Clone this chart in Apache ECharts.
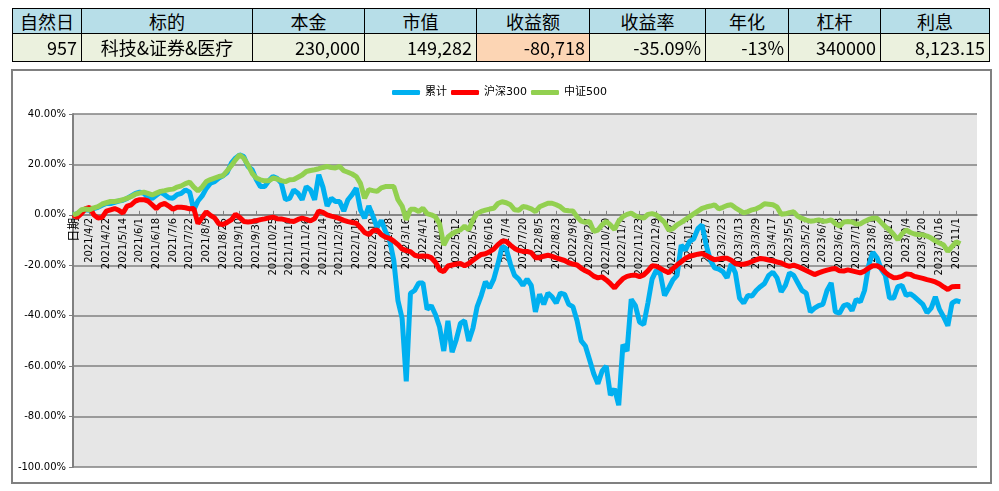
<!DOCTYPE html>
<html>
<head>
<meta charset="utf-8">
<script src="https://cdn.jsdelivr.net/npm/echarts@6/dist/echarts.min.js"></script>
<style>
html, body { margin: 0; padding: 0; background: #fff; }
#chart { position: absolute; left: 0; top: 0; width: 999px; height: 491px; }
#tbl { position: absolute; left: 0; top: 0; width: 999px; height: 66px; }
.cell { position: absolute; box-sizing: border-box; border: 1px solid #000; font-family: "Noto Sans CJK SC", sans-serif; color: #000; white-space: nowrap; overflow: hidden; font-size: 18px; }
</style>
</head>
<body>
<div id="chart"></div>
<div id="tbl"></div>
<script>
// 表头和数据
var headers = ['自然日', '标的', '本金', '市值', '收益额', '收益率', '年化', '杠杆', '利息'];
var values = ['957', '科技&证券&医疗', '230,000', '149,282', '-80,718', '-35.09%', '-13%', '340000', '8,123.15'];

// x轴标签 (每4个点一个)
var labels = ['日期', '2021/4/2', '2021/4/22', '2021/5/14', '2021/6/1', '2021/6/18', '2021/7/6', '2021/7/22', '2021/8/9', '2021/8/25',
	'2021/9/10', '2021/9/30', '2021/10/25', '2021/11/10', '2021/11/26', '2021/12/14', '2021/12/30', '2022/1/18', '2022/2/10', '2022/2/28',
	'2022/3/16', '2022/4/1', '2022/4/21', '2022/5/12', '2022/5/30', '2022/6/16', '2022/7/4', '2022/7/20', '2022/8/5', '2022/8/23',
	'2022/9/8', '2022/9/27', '2022/10/20', '2022/11/7', '2022/11/23', '2022/12/9', '2022/12/27', '2023/1/13', '2023/2/7', '2023/2/23',
	'2023/3/13', '2023/3/29', '2023/4/17', '2023/5/5', '2023/5/23', '2023/6/8', '2023/6/28', '2023/7/14', '2023/8/1', '2023/8/17',
	'2023/9/4', '2023/9/20', '2023/10/16', '2023/11/1'];

// 累计
var cumRet = [0, 0.5, 1.5, 2.0, 1.8, 2.5, 3.0, 3.8, 4.5, 4.5,
	5.0, 5.5, 5.8, 6.5, 7.5, 8.5, 9.0, 8.5, 7.0, 6.5,
	7.8, 9.0, 8.0, 6.8, 6.6, 8.0, 8.5, 9.9, 9.0, 2.0,
	5.5, 7.5, 10.5, 12.6, 13.2, 14.6, 15.5, 16.8, 20.5, 22.5,
	23.8, 23.1, 19.2, 17.9, 14.0, 11.2, 11.2, 13.5, 15.2, 14.5,
	12.6, 6.0, 6.5, 9.9, 8.6, 6.0, 11.2, 9.9, 6.0, 15.9,
	11.0, 3.5, 6.6, 5.3, 5.3, 1.5, 6.0, 8.0, 10.6, 2.0,
	-1.3, 3.5,
	-0.5, -5.0, -2.2, -6.5, -10.0, -18.0, -34.0, -41.0, -66.0, -31.1,
	-30.0, -27.0, -27.0, -37.5, -36.0, -39.5, -44.5, -54.0, -42.0, -54.5,
	-49.5, -43.0, -42.0, -50.0, -45.0, -36.5, -32.0, -26.5, -29.0, -25.5,
	-19.5, -12.5, -13.5, -19.5, -24.0, -25.5, -28.0, -25.5, -28.0, -38.5,
	-31.5, -35.5, -31.0, -32.5, -35.0, -31.0, -31.5, -35.5, -36.4, -42.0,
	-50.0, -52.0, -57.5, -63.0, -67.0, -62.0, -60.0, -71.5, -69.0, -75.5,
	-51.5, -54.0, -33.5, -36.0, -42.5, -43.5, -35.0, -25.5, -22.0, -23.5,
	-32.0, -29.0,
	-25.8, -24.0, -12.0, -14.0, -10.5, -9.5, -5.5, -4.0, -12.0, -18.0,
	-21.0, -21.5, -22.5, -25.0, -19.5, -23.0, -33.0, -35.0, -32.0, -32.2,
	-30.0, -28.5, -27.2, -24.0, -22.7, -25.0, -30.5, -28.0, -23.0, -24.0,
	-27.0, -30.0, -31.0, -38.5, -37.0, -36.0, -35.5, -30.0, -27.0, -38.5,
	-39.0, -36.0, -35.5, -38.0, -33.5, -34.5, -30.0, -20.0, -14.8, -17.0,
	-21.5, -24.0, -33.0, -33.0, -28.5, -28.0, -32.0, -31.3, -32.5, -34.0,
	-35.5, -38.8, -37.0, -32.5, -37.5, -40.5, -44.0, -35.0, -34.0, -34.5];

// 沪深300
var hs300 = [0, -1.0, 0.5, 2.5, 3.0, 0, -1.3, -1.0, 1.5, 2.0,
	2.5, 1.8, 0.7, 3.5, 4.0, 5.5, 6.0, 6.0, 5.5, 4.0,
	2.5, 4.0, 4.5, 3.5, 2.2, 3.0, 3.0, 2.8, 2.4, 2.5,
	-3.5, -1.0, 1.2, -0.2, -1.2, -3.5, -3.8, -3.0, -2.0, 0.2,
	-1.0, -2.6, -2.8, -2.6, -2.3, -1.9, -1.6, -1.2, -0.9, -1.5,
	-1.6, -2.0, -2.4, -2.6, -1.8, -1.3, -1.8, -2.4, -1.5, 1.5,
	1.0, 0, -0.5, -0.9, -1.5, -2.2, -2.7, -3.0, -3.3, -5.0,
	-7.0, -7.8,
	-6.3, -6.0, -7.8, -8.8, -9.3, -10.4, -11.8, -13.5, -14.2, -14.6,
	-16.0, -16.4, -16.3, -16.4, -17.0, -18.8, -21.8, -22.5, -20.3, -19.9,
	-19.5, -19.3, -20.2, -19.3, -18.0, -16.8, -15.7, -15.4, -14.6, -13.6,
	-11.8, -10.5, -10.5, -12.0, -13.3, -14.1, -14.5, -14.5, -15.0, -17.0,
	-17.0, -16.4, -16.0, -16.5, -17.1, -17.6, -18.1, -19.0, -19.5, -19.9,
	-21.2, -22.2, -23.0, -24.3, -25.0, -24.6, -25.8, -27.3, -29.0, -27.0,
	-25.3, -24.4, -24.0, -23.9, -24.5, -23.8, -22.2, -20.2, -20.4, -21.2,
	-22.2, -23.0,
	-21.3, -19.9, -18.6, -17.3, -16.4, -16.0, -15.6, -15.3, -16.1, -17.0,
	-17.8, -17.5, -17.2, -17.2, -18.0, -19.3, -19.6, -19.6, -19.2, -18.5,
	-17.8, -17.3, -17.5, -17.9, -18.2, -18.7, -19.1, -19.9, -20.4, -19.9,
	-20.5, -21.3, -22.1, -22.9, -23.7, -23.0, -22.4, -21.9, -21.5, -21.3,
	-22.2, -22.3, -21.8, -22.2, -22.6, -23.0, -22.3, -21.1, -20.2, -20.2,
	-21.1, -22.8, -24.1, -24.9, -24.8, -24.4, -23.4, -23.6, -24.4, -24.8,
	-25.2, -25.7, -26.1, -26.6, -27.4, -28.6, -29.6, -28.5, -28.4, -28.4];

// 中证500
var zz500 = [0, 0.5, 2.0, 2.3, 2.0, 2.8, 3.3, 4.3, 4.8, 5.3,
	5.3, 5.6, 6.0, 6.6, 7.3, 8.2, 8.6, 9.0, 8.5, 7.9,
	8.6, 9.3, 9.6, 10.0, 10.2, 11.0, 11.5, 12.4, 13.0, 11.0,
	9.5, 11.0, 13.2, 14.0, 14.6, 15.2, 15.5, 17.5, 19.5, 21.8,
	23.8, 22.5, 19.8, 16.5, 14.6, 13.9, 13.5, 13.5, 14.6, 14.2,
	13.6, 13.2, 13.9, 14.0, 14.9, 15.8, 17.2, 17.6, 17.9, 18.3,
	18.8, 19.2, 18.8, 18.6, 19.2, 17.5, 16.9, 16.2, 15.2, 12.5,
	6.6, 10.0,
	9.6, 9.3, 10.7, 11.2, 11.2, 11.2, 6.0, 3.5, -2.0, 2.2,
	2.2, 1.3, 2.6, 0.5, 0, -0.8, -3.5, -12.0, -8.8, -7.5,
	-6.6, -6.0, -4.5, -6.0, -2.0, 0.5, 1.4, 1.9, 2.3, 2.6,
	4.5, 5.2, 4.8, 4.0, 2.0, 1.8, 3.3, 3.0, 2.4, 1.3,
	3.2, 3.9, 4.6, 4.6, 4.0, 3.2, 1.8, 1.6, 1.5, -0.8,
	-2.5, -3.0, -2.6, -6.5, -6.0, -4.0, -2.6, -4.0, -5.8, -2.5,
	-0.7, 0.2, 0.7, -0.4, -0.9, -1.3, 0.2, 0.5, 0, -1.5,
	-3.0, -6.0,
	-5.5, -4.0, -3.0, -1.9, -0.8, 0.4, 1.5, 2.6, 3.1, 3.5,
	4.0, 2.4, 3.0, 3.7, 4.0, 2.8, 1.8, 0.8, 1.3, 2.0,
	2.4, 3.2, 4.4, 4.2, 4.0, 3.1, 0.2, 0.4, 0.9, 1.2,
	-0.6, -1.4, -2.1, -2.5, -2.3, -2.0, -2.5, -2.4, -2.0, -3.5,
	-4.5, -2.8, -2.6, -2.8, -3.6, -3.6, -2.6, -1.8, -1.3, -1.3,
	-3.0, -4.7, -6.0, -7.8, -9.8, -7.5, -6.0, -7.0, -7.6, -7.9,
	-7.9, -8.4, -9.2, -10.3, -11.2, -12.0, -14.5, -12.6, -10.7, -11.5];

var STEP = 4;      // 每个标签之间的点数
var TOTAL = 218;   // 横轴类目总数 (末尾留空)
var Y_MIN = -100, Y_MAX = 40;
var GRID_TOP = 114, GRID_BOTTOM = 24, CHART_H = 491;

// 表格
var edges = [12, 81, 252, 364, 476, 589, 705, 788, 880, 989];
var tbl = document.getElementById('tbl');
function addCell(c, top, h, text, bg, align) {
	var d = document.createElement('div');
	d.className = 'cell';
	d.style.left = edges[c] + 'px';
	d.style.top = top + 'px';
	d.style.width = (edges[c + 1] - edges[c] + 1) + 'px';
	d.style.height = h + 'px';
	d.style.lineHeight = (h - 2) + 'px';
	d.style.background = bg;
	d.style.textAlign = align;
	if (align == 'right') d.style.paddingRight = '4px';
	d.textContent = text;
	tbl.appendChild(d);
}
headers.forEach(function (h, c) {
	addCell(c, 8, 26, h, '#b7dee8', 'center');
});
values.forEach(function (v, c) {
	addCell(c, 33, 29, v, c == 4 ? '#fcd5b4' : '#ebf1de', c == 1 ? 'center' : 'right');
});

// 横轴类目
var cats = [];
for (var i = 0; i < TOTAL; i++) {
	if (i % STEP == 0 && i / STEP < labels.length) cats.push(labels[i / STEP]);
	else cats.push('_' + i);
}
function pad(arr) {
	var out = arr.slice();
	while (out.length < TOTAL) out.push(null);
	return out;
}
function showIdx(idx) {
	return idx % STEP == 0 && idx / STEP < labels.length;
}

// x轴放在0%处
var plotH = CHART_H - GRID_TOP - GRID_BOTTOM;
var zeroOffset = -plotH * (0 - Y_MIN) / (Y_MAX - Y_MIN);

var myEcharts = echarts.init(document.getElementById('chart'));
var option = {
	animation: false,
	backgroundColor: 'transparent',
	graphic: [{
		type: 'rect',
		shape: { x: 12, y: 70, width: 979, height: 413 },
		style: { fill: 'none', stroke: '#808080', lineWidth: 2 },
		silent: true
	}],
	legend: {
		top: 82,
		left: 'center',
		icon: 'roundRect',
		itemWidth: 28,
		itemHeight: 5,
		itemGap: 4,
		textStyle: { fontSize: 11, color: '#000', fontFamily: 'DejaVu Sans, Noto Sans CJK SC' },
		data: ['累计', '沪深300', '中证500']
	},
	grid: {
		left: 73,
		right: 22,
		top: GRID_TOP,
		bottom: GRID_BOTTOM,
		show: true,
		backgroundColor: '#e6e6e6',
		borderWidth: 0
	},
	xAxis: {
		type: 'category',
		boundaryGap: false,
		data: cats,
		offset: zeroOffset,
		axisLine: { onZero: false, lineStyle: { color: '#808080', width: 1.5 } },
		axisTick: { interval: showIdx, inside: true, length: 4, lineStyle: { color: '#808080' } },
		axisLabel: {
			interval: showIdx,
			rotate: 90,
			fontSize: 10,
			color: '#000',
			margin: 3,
			fontFamily: 'DejaVu Sans, Noto Sans CJK SC',
			formatter: function (v) {
				return v == '日期' ? '{cj|日期}' : v;
			},
			rich: { cj: { fontSize: 12, fontFamily: 'Noto Sans CJK SC' } }
		},
		splitLine: { show: false }
	},
	yAxis: {
		type: 'value',
		min: Y_MIN,
		max: Y_MAX,
		interval: 20,
		axisLine: { show: true, lineStyle: { color: '#808080', width: 2 } },
		axisTick: { show: true, length: 4, lineStyle: { color: '#808080' } },
		axisLabel: {
			fontSize: 10,
			color: '#000',
			margin: 7,
			fontFamily: 'DejaVu Sans',
			formatter: function (v) { return v.toFixed(2) + '%'; }
		},
		splitLine: { lineStyle: { color: '#808080', width: 1.5 } }
	},
	series: [
		{ name: '累计', type: 'line', data: pad(cumRet), symbol: 'none', color: '#00b0f0', lineStyle: { width: 5, color: '#00b0f0' } },
		{ name: '沪深300', type: 'line', data: pad(hs300), symbol: 'none', color: '#ff0000', lineStyle: { width: 5, color: '#ff0000' } },
		{ name: '中证500', type: 'line', data: pad(zz500), symbol: 'none', color: '#92d050', lineStyle: { width: 5, color: '#92d050' } }
	]
};
myEcharts.setOption(option);
</script>
</body>
</html>
